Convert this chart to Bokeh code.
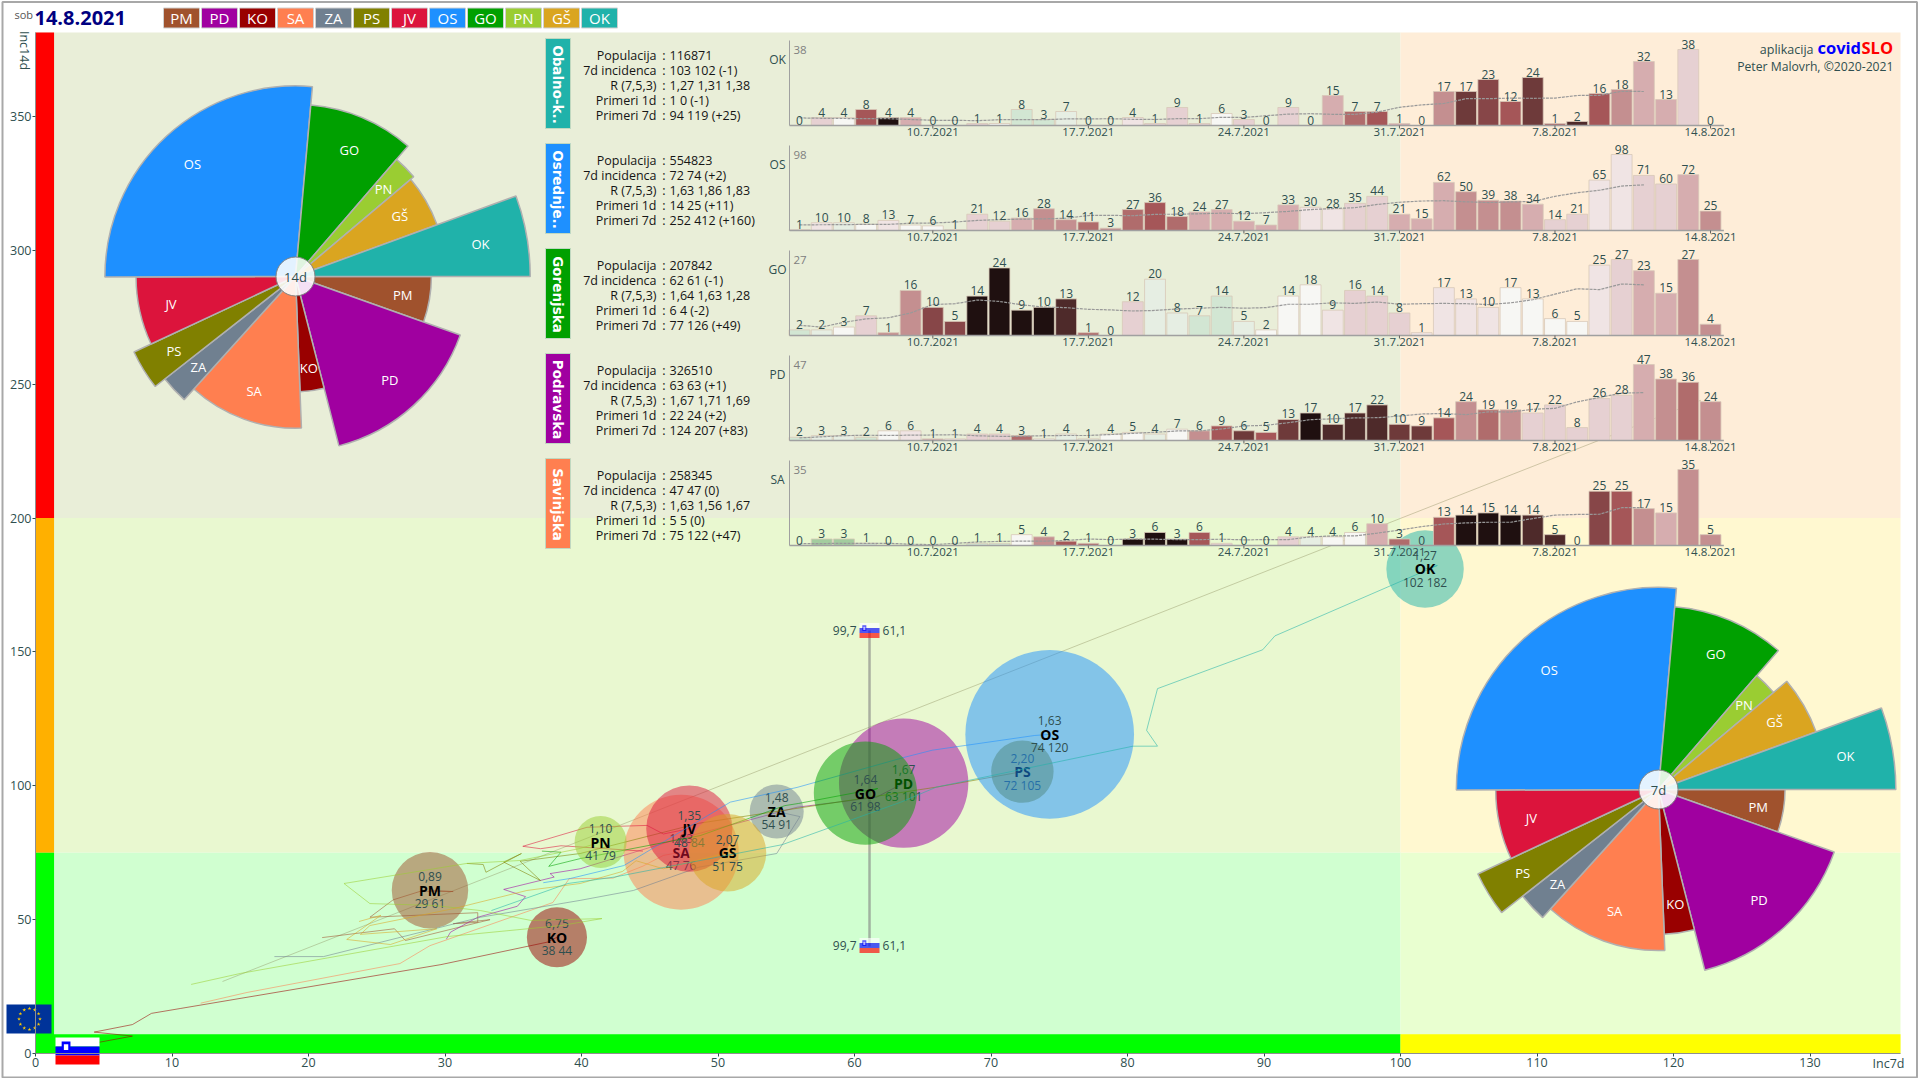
import math
from bokeh.plotting import figure
from bokeh.models import Range1d, LinearAxis, FixedTicker, ColumnDataSource
from bokeh.core.properties import value
from bokeh.embed import file_html
from bokeh.resources import INLINE

# ---------- data ----------
regions = ["PM", "PD", "KO", "SA", "ZA", "PS", "JV", "OS", "GO", "PN", "GŠ", "OK"]
colors = ["#A0522D", "#A000A0", "#990000", "#FF7F50", "#708090", "#808000",
          "#DC143C", "#1E90FF", "#00A000", "#9ACD32", "#DAA520", "#20B2AA"]
population = [114000, 326510, 70600, 258345, 57000, 76000, 145000, 554823, 207842, 52800, 117000, 116871]
inc7 = [29, 63, 38, 47, 54, 72, 48, 74, 61, 41, 51, 102]
inc14 = [61, 101, 44, 76, 91, 105, 84, 120, 98, 79, 75, 182]
inc7_exact = [28.9, 63.6, 38.2, 47.3, 54.3, 72.3, 47.9, 74.3, 60.8, 41.4, 50.7, 101.8]
inc14_exact = [61, 101, 43.4, 75.2, 90.4, 105.3, 84, 119.2, 97.3, 79, 75, 181]
rvals = ["0,89", "1,67", "6,75", "1,63", "1,48", "2,20", "1,35", "1,63", "1,64", "1,10", "2,07", "1,27"]

trail_PM = [(21, 43.3), (26.3, 46.6), (27.1, 42.2), (33.3, 50), (30.6, 48.5), (32.4, 49), (32.4, 52.6),
            (24.5, 50.9), (26.2, 57.4), (28.2, 60.6), (30.6, 60.5), (28.9, 61)]
trail_PD = [(30.1, 42.7), (30.4, 45.3), (32.4, 50.9), (35.3, 55), (35.9, 58.6), (34.3, 61.3), (38, 65.9),
            (37.7, 67.2), (39.9, 69), (46.7, 79.6), (55.8, 92), (61.6, 95.7), (63.6, 101)]
trail_KO = [(4.25, 3.8), (7.1, 6.5), (4.3, 8), (7.1, 10.8), (8.5, 15), (10.6, 16.8), (29.7, 33.2), (37.5, 41.6), (38.2, 43.4)]
trail_SA = [(12.1, 18.8), (15.5, 22.8), (26.7, 33.6), (28.9, 40.3), (30.2, 42.6), (37.9, 56.4), (39.1, 65.3),
            (42.3, 65.5), (44.5, 70), (46, 74), (47.3, 75.2)]
trail_ZA = [(17.5, 36.2), (21.1, 36.2), (32.6, 50.9), (39.9, 57.2), (43.8, 60.9), (48.6, 69.6), (54.3, 74.7), (56, 88.5), (54.3, 90.4)]
trail_PS = [(31.6, 71), (32.8, 70.6), (33, 67.7), (35.6, 74.7), (34.3, 71.5), (37, 64.6), (35.5, 71.8),
            (39.9, 74.7), (48.6, 86), (66, 99.5), (72.3, 105.3)]
trail_JV = [(44.5, 75.6), (38.5, 77.6), (37, 76.5), (35.7, 77.4), (40.4, 84.5), (44.8, 85.2), (46, 82), (47.9, 84)]
trail_OS = [(37.2, 63.8), (39.2, 65.4), (43.1, 70.2), (50.9, 93.9), (55.8, 99.4), (63.7, 110.7), (65.7, 113.3), (73.2, 118.8), (74.3, 119.2)]
trail_GO = [(37.1, 75.6), (38.5, 75.2), (37.6, 69.9), (39.9, 72.8), (48.7, 81.4), (54.9, 92.6), (55.9, 93.4), (61.7, 99), (60.8, 97.3)]
trail_PN = [(11.4, 25.8), (15, 29.9), (30.2, 43.7), (38.5, 47.8), (41.5, 50.4), (36.3, 49.7), (32.6, 53.4), (29.2, 55.3),
            (24.5, 56), (22.6, 63.5), (31.6, 71), (35.5, 72.1), (39.9, 76.6), (41.4, 79)]
trail_GS = [(23.7, 49.3), (25.3, 51.6), (22.8, 42.6), (26, 40.7), (29.4, 46.6), (23.8, 44.5), (24.5, 47.8), (30.7, 54.2),
            (36, 60.9), (39.9, 63.5), (43, 68), (44, 72), (46, 69), (50.7, 75)]
trail_OK = [(33.4, 53.4), (39, 63.5), (42.4, 65.9), (54.7, 78), (63.4, 93.9), (66, 99.5), (80.4, 114.8), (82.2, 114.8),
            (81.4, 120.7), (82.2, 136.3), (89.9, 150.8), (90.8, 156), (102.7, 182.3), (101.8, 181)]
trails = [trail_PM, trail_PD, trail_KO, trail_SA, trail_ZA, trail_PS, trail_JV, trail_OS, trail_GO, trail_PN, trail_GS, trail_OK]
long_line = [(13.7, 26.9), (122, 244)]
slo_inc7 = 61.1
slo_inc14 = 99.7

dates = ["10.7.2021", "17.7.2021", "24.7.2021", "31.7.2021", "7.8.2021", "14.8.2021"]
date_idx = [6, 13, 20, 27, 34, 41]

cases_OK = [0,4,4,8,4,4,0,0,1,1,8,3,7,0,0,4,1,9,1,6,3,0,9,0,15,7,7,1,0,17,17,23,12,24,1,2,16,18,32,13,38,0]
cases_OS = [1,10,10,8,13,7,6,1,21,12,16,28,14,11,3,27,36,18,24,27,12,7,33,30,28,35,44,21,15,62,50,39,38,34,14,21,65,98,71,60,72,25]
cases_GO = [2,2,3,7,1,16,10,5,14,24,9,10,13,1,0,12,20,8,7,14,5,2,14,18,9,16,14,8,1,17,13,10,17,13,6,5,25,27,23,15,27,4]
cases_PD = [2,3,3,2,6,6,1,1,4,4,3,1,4,1,4,5,4,7,6,9,6,5,13,17,10,17,22,10,9,14,24,19,19,17,22,8,26,28,47,38,36,24]
cases_SA = [0,3,3,1,0,0,0,0,1,1,5,4,2,1,0,3,6,3,6,1,0,0,4,4,4,6,10,3,0,13,14,15,14,14,5,0,25,25,17,15,35,5]

avg_OK = [3.8,3.6,3.5,3.4,3.4,3.0,2.6,2.6,2.4,2.9,2.9,2.9,3.3,3.3,3.4,3.1,3,3.4,3.4,4.1,4,4.9,5.7,5.9,5.6,5.6,6.7,9.1,10.3,11,13.4,13.4,13.7,13.6,13.7,15,15.1,17.1,17]
avg_OS = [7.3,7.4,7.6,7.9,7.9,9.4,9.7,10.9,13,14,14.7,15,15.9,19.3,19.6,19,20.9,21,21.6,22.4,21.6,23,24.6,27,28.3,29.4,33.6,36.4,38,38.4,37,36,36.9,37.3,44.1,48.7,51.9,57.3,58.9]
avg_GO = [3.6,3.0,4.7,5.9,6.3,8,11,11.3,12.6,12.1,10.9,10.1,9.9,9.3,9.1,8.7,8.9,9.4,9.7,10,9.7,9.9,11.1,11.1,11.6,11.4,11.9,11.1,11.3,11.4,11.3,11,11.6,12.7,14.7,16.6,16.3,18.3,18]
avg_PD = [1.6,2.3,3,3.3,3.1,3.3,3.4,3.6,2.9,2.6,2.6,3,3.1,3.1,3.7,4.4,5.1,5.9,6,7.1,9,9.4,11,12.9,13.4,14,14.1,15.1,16.4,16.7,16,17.7,17.6,19.3,19.9,23.9,26.6,29.3,29.6]
avg_SA = [0.8,0.9,1,1,1,0.6,0.4,1,1.6,1.9,2,2,2.3,3,2.7,3,2.9,2.7,2.7,2.9,2.6,2.7,2.7,4,4.4,4.4,5.7,7.1,8.7,9.9,10.4,10.7,10.7,12.4,14,14.3,14.4,17.4,17.4]

shade_OK = [3,5,3,9,13,6,3,3,5,3,1,1,2,3,3,4,5,5,5,3,5,3,5,3,6,8,9,6,3,7,11,10,9,11,8,12,9,7,6,6,5,5]
shade_OS = [3,4,2,3,4,3,3,4,5,5,6,7,7,8,7,8,9,8,6,6,6,6,6,4,4,5,5,6,6,6,7,7,7,6,5,5,4,4,5,5,6,7]
shade_GO = [1,2,3,5,7,7,10,10,13,13,13,13,12,8,3,5,2,2,1,1,2,3,3,3,4,5,5,5,4,4,4,4,3,3,3,3,4,5,6,6,7,7]
shade_PD = [1,2,2,1,3,4,6,4,5,5,8,3,2,2,3,3,2,3,7,9,11,9,11,13,12,12,12,11,11,9,7,8,7,5,5,5,5,5,6,7,8,7]
shade_SA = [3,0,0,1,3,3,3,3,1,1,3,7,9,8,3,13,13,13,9,5,3,3,5,2,3,3,6,8,3,9,13,13,13,12,12,3,10,9,7,6,7,7]

bar_palette = ["#a3cc9f", "#d2e6d3", "#e6eee3", "#f7f7f4", "#f0e4e4", "#e6d0d2", "#d6adaf",
               "#c48f90", "#b06c6c", "#a55658", "#874648", "#6e3a3a", "#4e2a2a", "#1f1010"]

panel_names = ["OK", "OS", "GO", "PD", "SA"]
panel_titles = ["Obalno-k..", "Osrednje..", "Gorenjska", "Podravska", "Savinjska"]
panel_cases = [cases_OK, cases_OS, cases_GO, cases_PD, cases_SA]
panel_avg = [avg_OK, avg_OS, avg_GO, avg_PD, avg_SA]
panel_shade = [shade_OK, shade_OS, shade_GO, shade_PD, shade_SA]
row_labels = ["Populacija", "7d incidenca", "R (7,5,3)", "Primeri 1d", "Primeri 7d"]
table_OK = ["116871", "103 102 (-1)", "1,27 1,31 1,38", "1 0 (-1)", "94 119 (+25)"]
table_OS = ["554823", "72 74 (+2)", "1,63 1,86 1,83", "14 25 (+11)", "252 412 (+160)"]
table_GO = ["207842", "62 61 (-1)", "1,64 1,63 1,28", "6 4 (-2)", "77 126 (+49)"]
table_PD = ["326510", "63 63 (+1)", "1,67 1,71 1,69", "22 24 (+2)", "124 207 (+83)"]
table_SA = ["258345", "47 47 (0)", "1,63 1,56 1,67", "5 5 (0)", "75 122 (+47)"]
panel_tables = [table_OK, table_OS, table_GO, table_PD, table_SA]

# ---------- layout (page pixels) ----------
OFF = 0
W, H = 1918, 1078
X0, KX = 35.0, 13.65      # page x of inc7=0, px per unit
Y0, KY = 1053.0, 2.677    # page y of inc14=0, px per unit
XMAX = (1900 - X0) / KX
YMAX = (Y0 - 32) / KY
FONT = "Open Sans"
TXT = "#2f4f4f"
DAY0, DAYW = 799.0, 22.22
BASES = [125, 230, 335, 440, 545]
BAR_H = 76.0

p = figure(width=W, height=H, toolbar_location=None, output_backend="svg",
           x_axis_type=None, y_axis_type=None, min_border=0,
           x_range=Range1d((OFF - X0) / KX, (OFF + W - X0) / KX),
           y_range=Range1d((Y0 - (OFF + H)) / KY, (Y0 - OFF) / KY))
p.outline_line_color = None
p.background_fill_color = "white"
p.border_fill_color = "white"
p.extra_x_ranges["px"] = Range1d(OFF, OFF + W)
p.extra_y_ranges["py"] = Range1d(OFF + H, OFF)
p.extra_x_ranges["day"] = Range1d((OFF - DAY0) / DAYW, (OFF + W - DAY0) / DAYW)
for name, base, cases in zip(panel_names, BASES, panel_cases):
    u = BAR_H / max(cases)
    p.extra_y_ranges["p" + name] = Range1d((base - (OFF + H)) / u, (base - OFF) / u)


def ptext(x, y, s, size=12, color=TXT, align="left", base="middle", style="normal", angle=0, font=FONT):
    p.text([x], [y], text=[s], text_font=value(font), text_font_size=f"{size}px", text_color=color,
           text_align=align, text_baseline=base, text_font_style=style, angle=angle,
           x_range_name="px", y_range_name="py")


def pquad(l, r, t, b, color, line=None, alpha=1.0, lw=1):
    p.quad(left=[l], right=[r], top=[t], bottom=[b], fill_color=color, fill_alpha=alpha,
           line_color=line, line_width=lw, x_range_name="px", y_range_name="py")


# page frame
p.quad(left=[2], right=[1916.5], top=[1.5], bottom=[1077], fill_color=None, line_color="#a8a8a8", line_width=2,
       x_range_name="px", y_range_name="py")

# ---------- backgrounds ----------
bg_x0 = [0, 100, 0, 100, 0, 100]
bg_x1 = [100, XMAX, 100, XMAX, 100, XMAX]
bg_y0 = [200, 200, 75, 75, 0, 0]
bg_y1 = [YMAX, YMAX, 200, 200, 75, 75]
bg_c = ["#e9eed8", "#feedd8", "#e9f8d0", "#fff8d0", "#d0ffd0", "#e9ffd0"]
p.quad(left=bg_x0, right=bg_x1, bottom=bg_y0, top=bg_y1, fill_color=bg_c, line_color=None)
p.quad(left=[0, 0, 0], right=[1.36] * 3, bottom=[200, 75, 0], top=[YMAX, 200, 75],
       fill_color=["#ff0000", "#ffb000", "#00ff00"], line_color=None)
p.quad(left=[0, 100], right=[100, XMAX], bottom=[0, 0], top=[7.2, 7.2],
       fill_color=["#00ff00", "#ffff00"], line_color=None)

# ---------- trails, bubbles ----------
p.line([a for a, b in long_line], [b for a, b in long_line], line_color="#8a8a5a", line_alpha=0.4, line_width=1)
p.segment([slo_inc7], [40], [slo_inc7], [158], line_color="#808080", line_alpha=0.6, line_width=2.5)

for reg, col, tr, ix, iy, ex, ey, rv, pop in zip(regions, colors, trails, inc7, inc14, inc7_exact, inc14_exact, rvals, population):
    p.line([a for a, b in tr], [b for a, b in tr], line_color=col, line_alpha=0.55, line_width=1)
    size = 2 * 3.58 * math.sqrt(pop / 1000)
    p.scatter([ex], [ey], size=size, marker="circle", fill_color=col, fill_alpha=0.5, line_color=None)
    for s, off, fs, c, st in [(rv, -13.5, 12, TXT, "normal"), (reg, 0, 14, "black", "bold"),
                              (f"{ix} {iy}", 13.5, 12, TXT, "normal")]:
        p.text([ex], [ey], text=[s], text_font=value(FONT), text_font_size=f"{fs}px", text_color=c,
               text_align="center", text_baseline="middle", y_offset=off, text_font_style=st)


# national marker
def flag(l, t, w, h, alpha=1.0):
    s = h / 3
    pquad(l, l + w, t, t + s, "#ffffff", alpha=alpha)
    pquad(l, l + w, t + s, t + 2 * s, "#0000ff", alpha=alpha)
    pquad(l, l + w, t + 2 * s, t + 3 * s, "#ff0000", alpha=alpha)
    pquad(l + w * 0.14, l + w * 0.34, t + s * 0.45, t + s * 1.6, "#0000ff", alpha=alpha)
    pquad(l + w * 0.19, l + w * 0.29, t + s * 0.75, t + s * 1.4, "#ffffff", alpha=alpha)


sx = X0 + slo_inc7 * KX
for yy in (630, 945):
    flag(sx - 10, yy - 7.5, 20, 15, 0.65)
    ptext(sx - 13, yy, str(slo_inc14).replace(".", ","), 12, align="right")
    ptext(sx + 13, yy, str(slo_inc7).replace(".", ","), 12)

# ---------- inset panels ----------
for k, name in enumerate(panel_names):
    base = BASES[k]
    rn = "p" + name
    cases = panel_cases[k]
    idx = list(range(len(cases)))
    cols = [bar_palette[s] for s in panel_shade[k]]
    src = ColumnDataSource(dict(x=idx, top=cases, c=cols, t=[str(v) for v in cases]))
    nz = [i for i, v in enumerate(cases) if v > 0]
    p.vbar(x=nz, top=[cases[i] for i in nz], bottom=0, width=0.94, fill_color=[cols[i] for i in nz],
           line_color="#d8c8b8", line_width=1, line_alpha=0.8, x_range_name="day", y_range_name=rn)
    p.line(idx[:len(panel_avg[k])], panel_avg[k], line_color="#999999", line_width=1.2, line_dash="3 1",
           x_range_name="day", y_range_name=rn)
    p.text(x="x", y="top", text="t", source=src, text_font=value(FONT), text_font_size="12px", text_color=TXT,
           text_align="center", text_baseline="bottom", y_offset=-1, x_range_name="day", y_range_name=rn)
    # axis lines
    p.segment([-0.45], [0], [41.6], [0], line_color="#a0a0a0", line_width=1.5, x_range_name="day", y_range_name=rn)
    p.segment([-0.45], [0], [-0.45], [max(cases) * 85 / BAR_H], line_color="#a0a0a0", line_width=1,
              x_range_name="day", y_range_name=rn)
    p.segment(date_idx, [0] * 6, date_idx, [-3 * max(cases) / BAR_H] * 6, line_color="#606060", line_width=1,
              x_range_name="day", y_range_name=rn)
    p.text(date_idx, [0] * 6, text=dates, text_font=value(FONT), text_font_size="11.5px", text_color=TXT,
           text_align="center", text_baseline="top", y_offset=2, x_range_name="day", y_range_name=rn)
    ptext(793, base - 76, str(max(cases)), 11.5, color="#808080")
    ptext(777, base - 66, name, 12, align="center")
    # side tag and table
    col = colors[regions.index(name)]
    pquad(545, 570, base - 87, base + 3, col, line="#c0d8c0")
    ptext(557.5, base - 41, panel_titles[k], 13.5, color="white", align="center", style="bold",
          angle=-math.pi / 2, font="DejaVu Sans")
    for r, (lab, val) in enumerate(zip(row_labels, panel_tables[k])):
        yy = base - 70 + 15 * r
        ptext(656, yy, lab, 12.5, color="#151515", align="right")
        ptext(663.5, yy, ":", 12.5, color="#151515", align="center")
        ptext(669, yy, val, 12.5, color="#151515")

# ---------- roses ----------
total = sum(population)
ang = []
a = 0.0
for v in population:
    ang.append((a, a + v / total * 2 * math.pi))
    a += v / total * 2 * math.pi


def rose(cx, cy, vals, k, lab):
    dx, dy = (cx - X0) / KX, (Y0 - cy) / KY
    for reg, col, v, (a0, a1) in zip(regions, colors, vals, ang):
        p.wedge([dx], [dy], radius=k * math.sqrt(v), radius_units="screen", start_angle=-a1, end_angle=-a0,
                fill_color=col, line_color="#b0b0b0", line_width=1.5)
    for reg, v, (a0, a1) in zip(regions, vals, ang):
        m = (a0 + a1) / 2
        r = 0.8 * k * math.sqrt(v)
        ptext(cx + r * math.cos(m), cy + r * math.sin(m), reg, 13, color="white", align="center")
    p.scatter([dx], [dy], size=39, marker="circle", fill_color="#ffffff", fill_alpha=0.88,
              line_color="#808080", line_width=1)
    ptext(cx, cy, lab, 13, align="center")


rose(295, 276, inc14, 17.4, "14d")
rose(1658, 789, inc7, 23.5, "7d")

# ---------- header chips ----------
ptext(14, 14, "sob", 11, color="#555555")
ptext(34, 17, "14.8.2021", 20, color="#000080", style="bold")
for i, (reg, col) in enumerate(zip(regions, colors)):
    l = 163 + 38 * i
    pquad(l, l + 36, 7.5, 27.5, col, line="#d0d0d0")
    ptext(l + 18, 17.5, reg, 15, color="white", align="center")

# ---------- credits ----------
ptext(1813, 49, "aplikacija", 12.5, align="right")
ptext(1817, 47, "covid", 16.5, color="#0000ff", style="bold")
ptext(1861, 47, "SLO", 16.5, color="#ff0000", style="bold")
ptext(1893, 66, "Peter Malovrh, ©2020-2021", 12.2, align="right")
ptext(1888, 1063, "Inc7d", 12.5, align="center")
ptext(23.5, 50, "Inc14d", 12.5, align="center", angle=-math.pi / 2)

# ---------- flags near the origin ----------
pquad(6, 51, 1004, 1033, "#003399")
star_x = [29 + 10.5 * math.cos(i * math.pi / 6) for i in range(12)]
star_y = [1018.5 + 10.5 * math.sin(i * math.pi / 6) for i in range(12)]
p.scatter(star_x, star_y, marker="star", size=4, fill_color="#ffcc00", line_color=None, x_range_name="px", y_range_name="py")
flag(55, 1037, 44, 27)

# ---------- real axes ----------
xax = LinearAxis(fixed_location=0, bounds=(0, XMAX), ticker=FixedTicker(ticks=list(range(0, 131, 10))))
yax = LinearAxis(fixed_location=0, bounds=(0, YMAX), ticker=FixedTicker(ticks=list(range(0, 351, 50))))
for ax in (xax, yax):
    ax.axis_line_color = "#909090"
    ax.major_tick_line_color = "#2f4f4f"
    ax.minor_tick_line_color = None
    ax.major_tick_in = 0
    ax.major_tick_out = 3
    ax.major_label_text_font = FONT
    ax.major_label_text_font_size = "12.5px"
    ax.major_label_text_color = TXT
    ax.major_label_standoff = 1
p.add_layout(xax, "below")
p.add_layout(yax, "left")

open("out.html", "w").write(file_html(p, INLINE))
